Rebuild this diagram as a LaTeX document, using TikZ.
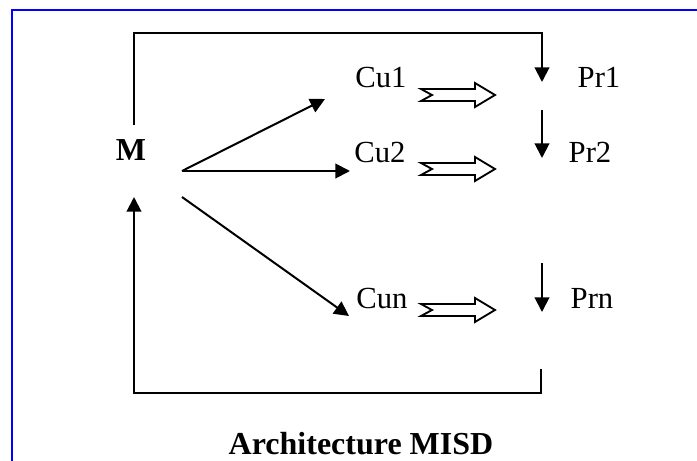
\documentclass[tikz,border=0pt]{standalone}
\usepackage{fontspec}
\setmainfont{Liberation Serif}
\usetikzlibrary{arrows.meta,calc,positioning}
\tikzset{
  unitname/.style={
    font=\fontsize{23}{27}\selectfont,
    inner sep=0pt,
    anchor=base
  },
  mastername/.style={
    unitname,
    font=\fontsize{24}{28}\selectfont\bfseries
  },
  connection/.style={
    line width=1.5pt,
    -{Triangle[length=11pt,width=11pt]}
  },
  frameline/.style={
    draw=blue,
    line width=2.2pt
  },
  hollowarrow/.style={
    draw=black,
    fill=white,
    line width=1.4pt,
    line join=miter
  }
}
\newcommand{\dataflow}[1]{%
  \begin{scope}[shift={#1}]
    \draw[hollowarrow] (0,-6) -- (54,-6) -- (54,-12) -- (74,0) -- (54,12) -- (54,6) -- (0,6) -- (11,0) -- cycle;
  \end{scope}%
}

\begin{document}
\begin{tikzpicture}[x=0.75pt,y=-0.75pt]
  % Same size as the reference picture, in pixels
  \useasboundingbox (0,0) rectangle (697,461);

  % Blue frame
  \draw[frameline] (12,470) -- (12,10) -- (710,10);

  % Memory and units
  \node[mastername] (M) at (131,160) {M};
  \node[unitname] (Cu1) at (381,87) {Cu1};
  \node[unitname] (Cu2) at (380,162) {Cu2};
  \node[unitname] (Cun) at (382,308) {Cun};
  \node[unitname] (Pr1) at (599,87) {Pr1};
  \node[unitname] (Pr2) at (590,162) {Pr2};
  \node[unitname] (Prn) at (592,308) {Prn};
  \node[mastername] (title) at (361,454) {Architecture MISD};

  % Fan out from M to the control units
  \coordinate (fan) at (182,171);
  \coordinate (fan-low) at (182,197);
  \coordinate (Cu1-in) at (325,99);
  \coordinate (Cu2-in) at (350,171);
  \coordinate (Cun-in) at (349,316);
  \draw[connection] (fan) -- (Cu1-in);
  \draw[connection] (fan) -- (Cu2-in);
  \draw[connection] (fan-low) -- (Cun-in);

  % Instruction flows
  \dataflow{(421,95)}
  \dataflow{(421,169)}
  \dataflow{(421,310)}

  % Data stream through the processors
  \coordinate (M-out) at (134,125);
  \coordinate (Pr1-in) at (542,82);
  \coordinate (Pr2-top) at (542,110);
  \coordinate (Pr2-in) at (542,158);
  \coordinate (Prn-top) at (542,263);
  \coordinate (Prn-in) at (542,312);
  \draw[connection] (M-out) |- (542,33) -- (Pr1-in);
  \draw[connection] (Pr2-top) -- (Pr2-in);
  \draw[connection] (Prn-top) -- (Prn-in);

  % Feedback to M
  \coordinate (Prn-out) at (541,369);
  \coordinate (M-in) at (134,197);
  \draw[connection] (Prn-out) |- (134,393) -- (M-in);
\end{tikzpicture}
\end{document}
